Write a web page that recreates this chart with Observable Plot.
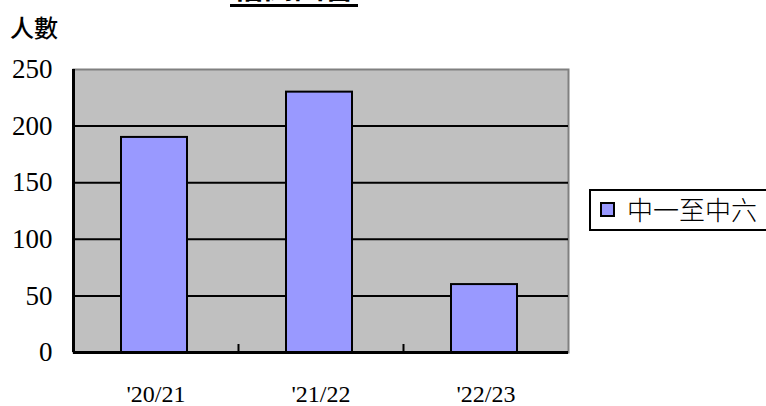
<!DOCTYPE html>
<html><head><meta charset="utf-8">
<script src="https://cdn.jsdelivr.net/npm/d3@7"></script>
<script src="https://cdn.jsdelivr.net/npm/@observablehq/plot@0.6"></script>
<style>
body{margin:0;background:#fff;overflow:hidden}
#wrap{position:relative;width:766px;height:406px;overflow:hidden}
#title{position:absolute;left:230px;top:-34px;width:128px;text-align:center;font:600 30px "Noto Sans CJK TC";border-bottom:3px solid #000;line-height:38px;white-space:nowrap}
#ylab{position:absolute;left:10px;top:11px;font:500 24px "Noto Sans CJK TC";line-height:32px}
#legend{position:absolute;left:589px;top:189px;width:190px;height:38px;border:2px solid #000;background:#fff}
#legend .sw{position:absolute;left:9px;top:11px;width:11px;height:11px;background:#9999FF;border:2px solid #000}
#legend .tx{position:absolute;left:36px;top:1px;font:300 26px "Noto Sans CJK TC";line-height:34px;white-space:nowrap}
</style></head>
<body><div id="wrap"></div>
<script>
const categories = ["'20/21", "'21/22", "'22/23"];
const values = [190, 230, 60];
const seriesName = "中一至中六";
const yTicks = [0, 50, 100, 150, 200, 250];
const titleText = "借閱圖書";

const data = categories.map((c, i) => ({i, c, v: values[i]}));
const serif = "Liberation Serif";

const chart = Plot.plot({
  width: 766, height: 406,
  marginLeft: 73, marginRight: 198, marginTop: 69, marginBottom: 54,
  style: {background: "transparent", color: "#000"},
  x: {domain: [0, categories.length], axis: null},
  y: {domain: [0, 250], axis: null},
  marks: [
    Plot.frame({fill: "#C0C0C0", stroke: "#808080", strokeWidth: 2}),
    Plot.ruleY(yTicks.filter(t => t > 0 && t < 250), {stroke: "#000", strokeWidth: 2}),
    Plot.rectY(data, {x1: d => d.i, x2: d => d.i + 1, y: "v", fill: "#9999FF", stroke: "#000", strokeWidth: 2, insetLeft: 48, insetRight: 51}),
    Plot.ruleY([0], {stroke: "#000", strokeWidth: 3}),
    Plot.ruleX([0], {stroke: "#000", strokeWidth: 3}),
    Plot.ruleX(d3.range(1, categories.length), {y1: 0, y2: 0, insetTop: -8, stroke: "#000", strokeWidth: 2}),
    Plot.axisY(yTicks, {tickSize: 0, tickPadding: 21, label: null, fontSize: 27}),
    Plot.axisX(categories.map((c, i) => i + 0.5), {tickSize: 0, tickPadding: 32, label: null, fontSize: 24, tickFormat: t => categories[Math.floor(t)]})
  ]
});
d3.select(chart).selectAll("text").style("font-family", serif).attr("fill", "#000");
const wrap = document.getElementById("wrap");
wrap.appendChild(chart);
const t = document.createElement("div"); t.id = "title"; t.textContent = titleText; wrap.appendChild(t);
const yl = document.createElement("div"); yl.id = "ylab"; yl.textContent = "人數"; wrap.appendChild(yl);
const lg = document.createElement("div"); lg.id = "legend";
lg.innerHTML = '<div class="sw"></div><div class="tx"></div>';
lg.querySelector(".tx").textContent = seriesName;
wrap.appendChild(lg);
</script></body></html>
